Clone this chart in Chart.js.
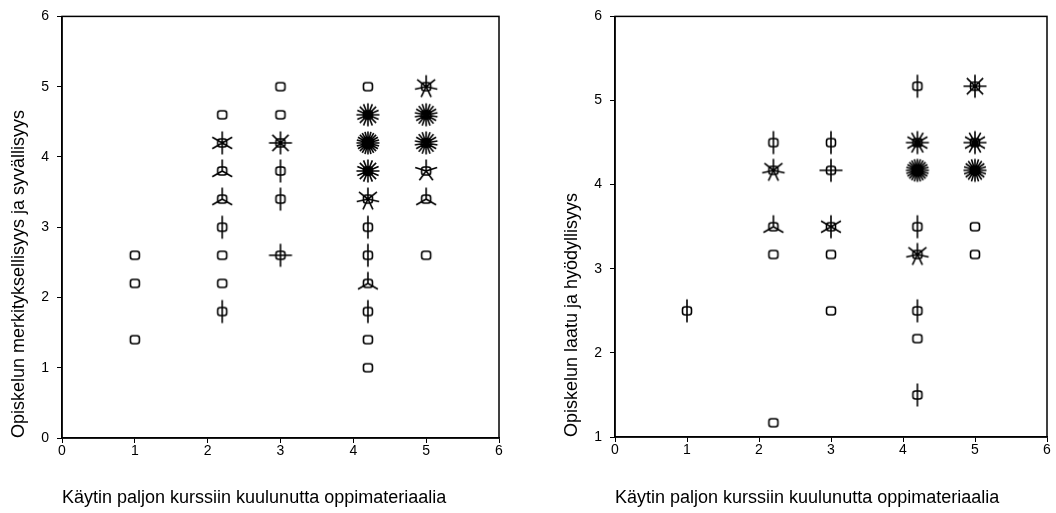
<!DOCTYPE html>
<html>
<head>
<meta charset="utf-8">
<script src="https://cdn.jsdelivr.net/npm/chart.js@4.4.0/dist/chart.umd.min.js"></script>
<style>
  body { margin: 0; background: #fff; }
  .panel { position: absolute; top: 0; width: 528px; height: 513px; }
</style>
</head>
<body>
<div class="panel" style="left:0"><canvas id="leftChart" width="528" height="513"></canvas></div>
<div class="panel" style="left:528px"><canvas id="rightChart" width="528" height="513"></canvas></div>
<script>
// Left panel: meaningfulness and depth of studying
const leftX = [1, 1, 1,
  2.2, 2.2, 2.2, 2.2, 2.2, 2.2, 2.2, 2.2,
  3, 3, 3, 3, 3, 3,
  4.2, 4.2, 4.2, 4.2, 4.2, 4.2, 4.2, 4.2, 4.2, 4.2, 4.2,
  5, 5, 5, 5, 5, 5];
const leftY = [2.6, 2.2, 1.4,
  4.6, 4.2, 3.8, 3.4, 3.0, 2.6, 2.2, 1.8,
  5.0, 4.6, 4.2, 3.8, 3.4, 2.6,
  5.0, 4.6, 4.2, 3.8, 3.4, 3.0, 2.6, 2.2, 1.8, 1.4, 1.0,
  5.0, 4.6, 4.2, 3.8, 3.4, 2.6];
const leftCount = [1, 1, 1,
  1, 6, 3, 3, 2, 1, 1, 2,
  1, 1, 8, 2, 2, 4,
  1, 16, 24, 16, 7, 2, 2, 3, 2, 1, 1,
  7, 18, 18, 5, 3, 1];

// Right panel: quality and usefulness of studying
const rightX = [1,
  2.2, 2.2, 2.2, 2.2, 2.2,
  3, 3, 3, 3, 3,
  4.2, 4.2, 4.2, 4.2, 4.2, 4.2, 4.2, 4.2,
  5, 5, 5, 5, 5];
const rightY = [2.5,
  4.5, 4.17, 3.5, 3.17, 1.17,
  4.5, 4.17, 3.5, 3.17, 2.5,
  5.17, 4.5, 4.17, 3.5, 3.17, 2.5, 2.17, 1.5,
  5.17, 4.5, 4.17, 3.5, 3.17];
const rightCount = [2,
  2, 7, 3, 1, 1,
  2, 4, 6, 1, 1,
  2, 12, 24, 2, 7, 2, 1, 2,
  8, 12, 20, 1, 1];

const xTitle = 'Käytin paljon kurssiin kuulunutta oppimateriaalia';
const leftTitle = 'Opiskelun merkityksellisyys ja syvällisyys';
const rightTitle = 'Opiskelun laatu ja hyödyllisyys';

const FONT = "'Liberation Sans', Arial, sans-serif";

// sunflower glyph: small box with one petal per observation
const glyphs = {};
function sunflower(n) {
  if (glyphs[n]) return glyphs[n];
  const c = document.createElement('canvas');
  c.width = 28; c.height = 28;
  const g = c.getContext('2d');
  const cx = 14, cy = 14;
  g.strokeStyle = '#000';
  g.lineWidth = 1.6;
  g.beginPath();
  g.roundRect(cx - 4.5, cy - 4, 9, 8, 2.5);
  g.stroke();
  if (n > 1) {
    g.beginPath();
    for (let i = 0; i < n; i++) {
      const a = -Math.PI / 2 + i * 2 * Math.PI / n;
      g.moveTo(cx, cy);
      g.lineTo(cx + 11.5 * Math.cos(a), cy + 11.5 * Math.sin(a));
    }
    g.stroke();
  }
  glyphs[n] = c;
  return c;
}

// closes the plot box on top and right
const frame = {
  id: 'frame',
  afterDraw(chart) {
    const { ctx, chartArea: a } = chart;
    ctx.save();
    ctx.strokeStyle = '#000';
    ctx.lineWidth = 1.5;
    ctx.strokeRect(a.left, a.top, a.right - a.left, a.bottom - a.top);
    ctx.restore();
  }
};

function makeChart(id, xs, ys, counts, yMin, yTitle, g) {
  return new Chart(document.getElementById(id), {
    type: 'scatter',
    data: {
      datasets: [{
        data: xs.map((x, i) => ({ x: x, y: ys[i] })),
        pointStyle: ctx => sunflower(counts[ctx.dataIndex]),
        pointRadius: 5
      }]
    },
    options: {
      responsive: false,
      animation: false,
      events: [],
      layout: { padding: { top: 14, right: g.right, left: 0, bottom: 0 } },
      plugins: { legend: { display: false }, tooltip: { enabled: false } },
      scales: {
        x: {
          min: 0, max: 6,
          afterFit: s => { s.height = g.xh; },
          ticks: { stepSize: 1, color: '#000', padding: 0, font: { family: FONT, size: 14 } },
          grid: { drawOnChartArea: false, drawTicks: true, tickLength: 5, color: '#000' },
          border: { display: true, color: '#000', width: 1.5 },
          title: {
            display: true, text: xTitle, align: 'start', color: '#000',
            font: { family: FONT, size: 18 }, padding: { top: 0, bottom: 4 }
          }
        },
        y: {
          min: yMin, max: 6,
          afterFit: s => { s.width = g.yw; },
          ticks: { stepSize: 1, color: '#000', padding: 8, font: { family: FONT, size: 14 } },
          grid: { drawOnChartArea: false, drawTicks: true, tickLength: 5, color: '#000' },
          border: { display: true, color: '#000', width: 1.5 },
          title: {
            display: true, text: yTitle, align: 'start', color: '#000',
            font: { family: FONT, size: 18 }, padding: { top: g.tp, bottom: 0 }
          }
        }
      }
    },
    plugins: [frame]
  });
}

makeChart('leftChart', leftX, leftY, leftCount, 0, leftTitle, { right: 29, xh: 75, yw: 62, tp: 8 });
makeChart('rightChart', rightX, rightY, rightCount, 1, rightTitle, { right: 9, xh: 76, yw: 87, tp: 33 });
</script>
</body>
</html>
